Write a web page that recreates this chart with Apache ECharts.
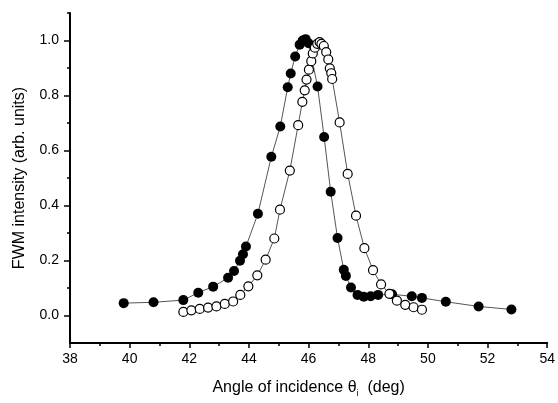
<!DOCTYPE html>
<html>
<head>
<meta charset="utf-8">
<script src="https://cdn.jsdelivr.net/npm/echarts@6/dist/echarts.min.js"></script>
<style>html,body{margin:0;padding:0;background:#fff}#c{width:558px;height:403px}</style>
</head>
<body>
<div id="c"></div>
<script>
// Filled circles series
var filledX = [39.8, 40.8, 41.8, 42.3, 42.8, 43.3, 43.5, 43.7, 43.8, 43.9, 44.3, 44.75, 45.05, 45.3, 45.4, 45.55, 45.7, 45.8, 45.9, 46.0, 46.3, 46.52, 46.74, 46.97, 47.18, 47.25, 47.42, 47.64, 47.85, 48.08, 48.33, 48.8, 49.46, 49.8, 50.6, 51.7, 52.8];
var filledY = [0.045, 0.048, 0.056, 0.083, 0.105, 0.137, 0.162, 0.199, 0.223, 0.251, 0.370, 0.577, 0.687, 0.830, 0.880, 0.942, 0.985, 1.000, 1.005, 0.990, 0.833, 0.649, 0.450, 0.282, 0.166, 0.144, 0.102, 0.075, 0.068, 0.070, 0.075, 0.077, 0.070, 0.064, 0.050, 0.033, 0.022];
// Open circles series
var openX = [41.8, 42.07, 42.35, 42.63, 42.91, 43.19, 43.47, 43.71, 43.98, 44.28, 44.56, 44.85, 45.04, 45.37, 45.65, 45.79, 45.87, 45.93, 46.01, 46.09, 46.14, 46.21, 46.29, 46.37, 46.43, 46.51, 46.59, 46.66, 46.71, 46.76, 46.79, 47.04, 47.31, 47.59, 47.87, 48.16, 48.43, 48.71, 48.96, 49.24, 49.52, 49.80];
var openY = [0.013, 0.019, 0.024, 0.029, 0.033, 0.042, 0.051, 0.075, 0.106, 0.146, 0.203, 0.280, 0.385, 0.527, 0.692, 0.777, 0.819, 0.858, 0.894, 0.925, 0.953, 0.974, 0.988, 0.994, 0.988, 0.980, 0.958, 0.931, 0.899, 0.881, 0.860, 0.702, 0.515, 0.363, 0.245, 0.165, 0.113, 0.079, 0.054, 0.039, 0.030, 0.021];
// Axis ticks
var yMajorTicks = [0.0, 0.2, 0.4, 0.6, 0.8, 1.0];
var yMinorTicks = [0.1, 0.3, 0.5, 0.7, 0.9, 1.1];
var xMin = 38, xMax = 54, xStep = 2;
var yMin = -0.1, yMax = 1.1;

function pairs(xs, ys) { return xs.map(function (x, i) { return [x, ys[i]]; }); }

var font = '"Liberation Sans", Arial, sans-serif';
var chart = echarts.init(document.getElementById('c'), null, { renderer: 'canvas' });
chart.setOption({
  animation: false,
  backgroundColor: '#ffffff',
  grid: { left: 70, right: 9, top: 13, bottom: 54, containLabel: false },
  xAxis: {
    type: 'value', min: xMin, max: xMax, interval: xStep,
    name: 'Angle of incidence θ{sub|i}  (deg)',
    nameLocation: 'middle', nameGap: 34,
    nameTextStyle: {
      fontFamily: font, fontSize: 16, color: '#000', verticalAlign: 'top',
      rich: { sub: { fontFamily: font, fontSize: 9, color: '#000', verticalAlign: 'bottom', padding: [12, 0, 0, 0] } }
    },
    axisLine: { show: true, onZero: false, lineStyle: { color: '#000', width: 2 } },
    axisTick: { show: true, inside: false, length: 5, lineStyle: { color: '#000', width: 1.5 } },
    minorTick: { show: true, splitNumber: 2, length: 3, lineStyle: { color: '#000', width: 1.5 } },
    axisLabel: { fontFamily: font, fontSize: 14, color: '#000', margin: 9 },
    splitLine: { show: false }
  },
  yAxis: [{
    type: 'value', min: yMin, max: yMax, position: 'left',
    name: 'FWM intensity (arb. units)',
    nameLocation: 'middle', nameGap: 42, nameRotate: 90,
    nameTextStyle: { fontFamily: font, fontSize: 16, color: '#000' },
    axisLine: { show: true, onZero: false, lineStyle: { color: '#000', width: 2 } },
    axisTick: { show: true, inside: false, length: 6, customValues: yMajorTicks, lineStyle: { color: '#000', width: 1.5 } },
    axisLabel: { fontFamily: font, fontSize: 14, color: '#000', margin: 11, customValues: yMajorTicks,
      formatter: function (v) { return (+v).toFixed(1); } },
    splitLine: { show: false }
  }, {
    type: 'value', min: yMin, max: yMax, position: 'left', offset: 0,
    axisLine: { show: false },
    axisTick: { show: true, inside: false, length: 3, customValues: yMinorTicks, lineStyle: { color: '#000', width: 1.5 } },
    axisLabel: { show: false },
    splitLine: { show: false }
  }],
  series: [{
    type: 'line', yAxisIndex: 0,
    data: pairs(filledX, filledY),
    symbol: 'circle', symbolSize: 10,
    lineStyle: { color: '#555', width: 1 },
    itemStyle: { color: '#000', borderColor: '#000', borderWidth: 0 },
    z: 2
  }, {
    type: 'line', yAxisIndex: 0,
    data: pairs(openX, openY),
    symbol: 'circle', symbolSize: 9,
    lineStyle: { color: '#555', width: 1 },
    itemStyle: { color: '#fff', borderColor: '#000', borderWidth: 1.2 },
    z: 3
  }]
});
</script>
</body>
</html>
